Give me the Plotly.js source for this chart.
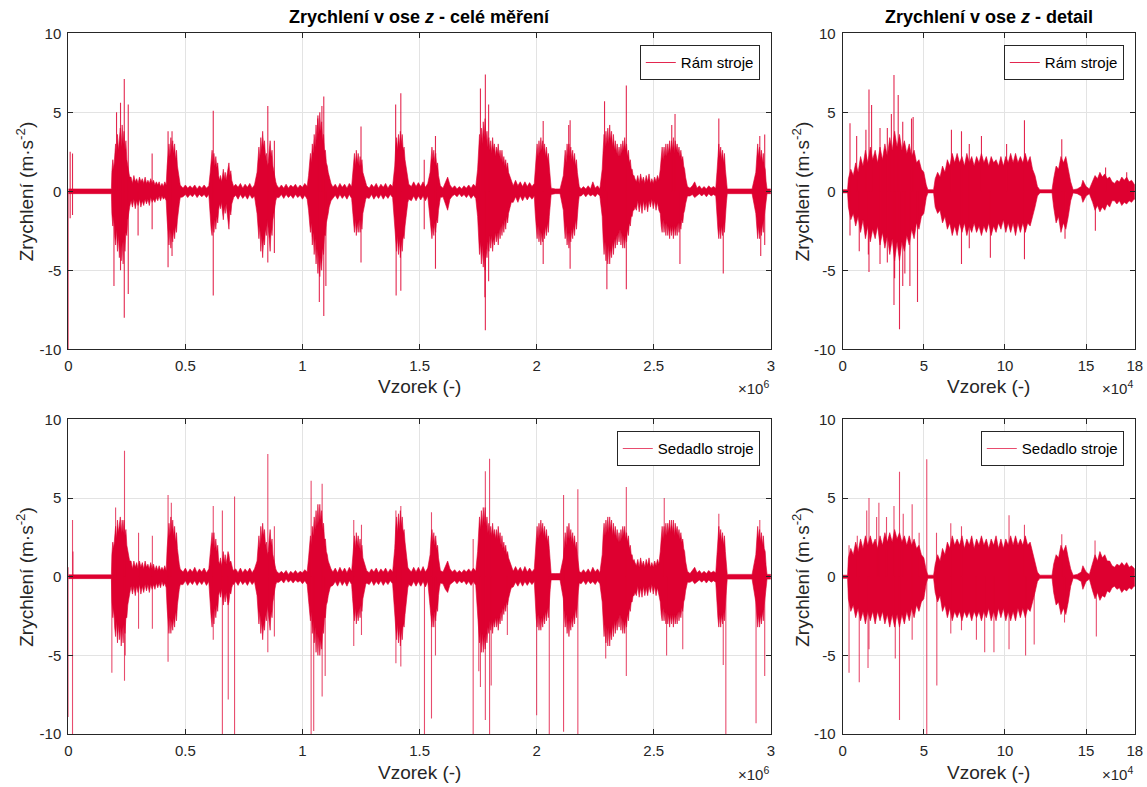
<!DOCTYPE html>
<html>
<head>
<meta charset="utf-8">
<script src="https://cdn.plot.ly/plotly-3.0.1.min.js"></script>
<style>html,body{margin:0;padding:0;background:#fff;}#chart{width:1147px;height:787px;}</style>
</head>
<body>
<div id="chart"></div>
<script>
// ================= DATA =================
// Left panels: x in units of 1e6 samples. Envelope (upper / lower extent of the dense signal).
const leftEnvX = [0.000,0.184,
0.186,0.190,0.194,0.198,0.202,0.206,0.210,0.214,0.218,0.222,0.226,0.230,0.234,0.238,0.242,0.246,0.250,0.254,0.258,0.262,
0.268,0.274,0.280,0.286,0.292,0.298,0.304,0.310,0.316,0.322,0.328,0.334,0.340,0.346,0.352,0.358,0.364,0.370,0.376,0.382,0.388,0.394,0.400,0.406,0.412,0.418,
0.422,0.426,0.430,0.434,0.438,0.442,0.446,0.450,0.454,0.458,0.462,0.466,0.470,0.474,0.478,
0.490,0.500,0.510,0.520,0.530,0.540,0.550,0.560,0.570,0.580,0.590,0.600,
0.606,0.610,0.614,0.618,0.622,0.626,0.630,0.634,0.638,0.642,0.646,0.650,0.654,0.658,0.662,0.666,0.670,0.674,0.678,0.682,0.686,0.690,0.694,0.698,0.702,0.706,
0.715,0.725,0.735,0.745,0.755,0.765,0.775,0.785,0.795,
0.806,0.810,0.814,0.818,0.822,0.826,0.830,0.834,0.838,0.842,0.846,0.850,0.854,0.858,0.862,0.866,0.870,0.874,0.878,0.882,0.886,0.890,
0.900,0.910,0.920,0.930,0.940,0.950,0.960,0.970,0.980,0.990,1.000,1.010,1.020,
1.026,1.030,1.034,1.038,1.042,1.046,1.050,1.054,1.058,1.062,1.066,1.070,1.074,1.078,1.082,1.086,1.090,1.094,1.098,1.102,1.106,1.110,1.114,1.118,1.122,
1.130,1.140,1.150,1.160,1.170,1.180,1.190,1.200,1.210,
1.214,1.218,1.222,1.226,1.230,1.234,1.238,1.242,1.246,1.250,1.254,1.258,1.262,1.266,1.270,1.274,
1.285,1.295,1.305,1.315,1.325,1.335,1.345,1.355,1.365,1.375,1.385,
1.394,1.398,1.402,1.406,1.410,1.414,1.418,1.422,1.426,1.430,1.434,1.438,1.442,1.446,1.450,1.454,
1.465,1.475,1.485,1.495,1.505,1.515,1.525,1.535,
1.545,1.549,1.553,1.557,1.561,1.565,1.569,1.573,1.577,1.581,1.585,1.589,
1.600,1.610,1.620,1.630,1.640,1.650,1.660,1.670,1.680,1.690,1.700,1.710,1.720,1.730,1.740,
1.748,1.752,1.756,1.760,1.764,1.768,1.772,1.776,1.780,1.784,1.788,1.792,1.796,1.800,1.804,1.808,1.812,1.816,1.820,1.824,1.828,1.832,1.836,1.840,1.844,1.848,1.852,1.856,1.860,1.864,1.868,1.872,1.876,1.880,1.884,1.888,1.892,
1.900,1.910,1.920,1.930,1.940,1.950,1.960,1.970,1.980,1.990,
1.994,1.998,2.002,2.006,2.010,2.014,2.018,2.022,2.026,2.030,2.034,2.038,2.042,2.046,2.050,2.054,2.058,2.062,
2.080,2.100,
2.114,2.118,2.122,2.126,2.130,2.134,2.138,2.142,2.146,2.150,2.154,2.158,2.162,2.166,2.170,2.174,2.178,2.182,
2.190,2.200,2.210,2.220,2.230,2.240,2.250,2.260,2.270,
2.280,2.284,2.288,2.292,2.296,2.300,2.304,2.308,2.312,2.316,2.320,2.324,2.328,2.332,2.336,2.340,2.344,2.348,2.352,2.356,2.360,2.364,2.368,2.372,2.376,2.380,2.384,2.388,2.392,2.396,2.400,2.404,2.408,2.412,2.416,2.420,
2.426,2.432,2.438,2.444,2.450,2.456,2.462,2.468,2.474,2.480,2.486,2.492,2.498,2.504,2.510,2.516,2.522,
2.528,2.532,2.536,2.540,2.544,2.548,2.552,2.556,2.560,2.564,2.568,2.572,2.576,2.580,2.584,2.588,2.592,2.596,2.600,2.604,2.608,2.612,2.616,2.620,2.624,2.628,2.632,2.636,2.640,2.644,
2.655,2.665,2.675,2.685,2.695,2.705,2.715,2.725,2.735,2.745,2.755,2.765,
2.770,2.774,2.778,2.782,2.786,2.790,2.794,2.798,2.802,2.806,2.810,2.814,
2.830,2.920,
2.936,2.940,2.944,2.948,2.952,2.956,2.960,2.964,2.968,2.972,2.976,2.980,2.984,
3.000];

// Rám stroje (frame) – whole measurement
const ramEnvHi = [0.15,0.15,
1.2,2.0,1.4,2.6,3.0,2.2,3.6,2.6,3.2,4.0,2.8,4.2,3.0,3.8,2.6,3.2,2.0,1.6,1.2,0.9,
0.9,0.5,1.0,0.6,0.8,0.5,0.9,0.6,0.8,0.5,0.9,0.5,0.7,0.5,0.8,0.5,0.7,0.4,0.6,0.4,0.6,0.3,0.5,0.3,0.6,0.4,
1.6,2.4,3.0,2.2,3.4,2.6,3.2,2.4,3.0,2.0,2.6,1.6,1.2,0.7,0.4,
0.2,0.4,0.2,0.35,0.2,0.4,0.15,0.35,0.2,0.4,0.2,0.35,
1.2,2.0,2.6,1.8,2.4,1.6,2.2,1.5,1.8,1.0,0.7,1.0,0.6,0.9,1.4,0.8,1.2,0.7,1.0,1.4,1.8,1.0,1.3,0.7,0.5,0.3,
0.45,0.25,0.5,0.2,0.45,0.25,0.5,0.2,0.4,
1.2,2.0,2.8,2.0,3.4,2.6,3.8,2.8,3.2,2.2,2.4,1.6,1.8,2.6,3.2,2.2,2.6,1.6,1.2,0.8,0.6,0.4,
0.2,0.4,0.2,0.45,0.2,0.4,0.25,0.45,0.2,0.4,0.25,0.5,0.3,
1.0,1.6,2.4,1.8,3.0,2.4,3.6,2.8,4.2,3.2,4.8,3.6,5.0,3.8,4.4,3.2,3.6,2.6,2.6,1.8,1.6,1.2,0.9,0.7,0.5,
0.25,0.45,0.2,0.5,0.25,0.45,0.2,0.5,0.3,
1.0,1.8,2.4,1.6,2.6,1.8,2.4,1.6,2.2,1.6,2.0,1.2,1.0,0.7,0.5,0.35,
0.2,0.45,0.25,0.5,0.2,0.45,0.25,0.5,0.2,0.45,0.3,
1.6,2.8,3.4,2.6,3.6,2.8,3.8,3.0,3.6,2.6,2.8,2.0,1.6,1.0,0.6,0.45,
0.3,0.6,0.3,0.55,0.3,0.6,0.25,0.5,
1.2,2.2,2.8,2.0,2.6,1.8,2.4,1.6,1.8,1.0,0.6,0.35,
0.2,0.5,0.9,0.4,0.2,0.35,0.15,0.3,0.15,0.35,0.2,0.4,0.2,0.45,0.3,
1.4,2.6,3.6,2.8,4.0,3.0,4.4,3.4,4.6,3.2,3.8,2.8,3.4,2.6,3.2,2.4,3.4,2.6,3.0,2.2,2.8,2.4,3.0,2.2,2.6,2.0,2.6,1.8,2.2,1.6,2.0,1.4,1.8,1.2,1.0,0.8,0.6,
0.35,0.7,0.35,0.6,0.3,0.6,0.3,0.55,0.3,0.5,
1.2,2.2,3.0,2.2,3.2,2.4,3.4,2.6,3.2,2.4,3.0,2.2,2.8,2.0,2.4,1.6,0.8,0.2,
0.15,0.15,
1.0,1.8,2.6,1.8,3.0,2.2,3.0,2.2,2.8,2.0,2.6,1.8,2.4,1.6,2.0,1.2,0.7,0.3,
0.15,0.3,0.15,0.35,0.15,0.6,0.2,0.35,0.15,
1.4,2.6,3.6,2.8,3.8,3.0,4.0,3.0,4.2,3.2,3.8,2.8,3.6,2.6,3.2,2.4,3.0,2.2,2.8,2.2,3.0,2.4,3.2,2.6,3.4,2.6,3.0,2.2,2.6,1.8,2.0,1.4,1.4,1.0,1.0,0.8,
0.6,1.0,0.5,1.1,0.6,0.9,0.5,1.0,0.6,1.1,0.5,0.8,0.5,0.9,0.6,1.0,0.7,
1.4,2.2,2.8,2.0,2.8,2.2,3.0,2.2,3.0,2.4,3.2,2.4,3.2,2.6,3.4,2.4,3.2,2.6,3.0,2.4,2.8,2.2,2.6,2.0,2.2,1.6,1.4,0.9,0.5,0.3,
0.2,0.35,0.6,0.2,0.35,0.15,0.3,0.15,0.35,0.2,0.3,0.2,
1.2,2.2,3.0,2.2,2.8,2.0,2.6,1.8,2.4,1.4,0.6,0.15,
0.15,0.15,
1.2,2.2,3.0,2.2,2.8,2.0,2.6,1.8,2.4,1.6,1.4,0.6,0.15,
0.15];
const ramEnvLo = [-0.15,-0.15,
-1.4,-2.2,-1.6,-2.8,-3.4,-2.4,-3.8,-2.8,-4.2,-3.0,-4.4,-3.2,-4.6,-3.0,-3.8,-2.6,-2.8,-1.8,-1.4,-1.0,
-0.6,-1.0,-0.5,-1.1,-0.6,-0.9,-0.5,-1.0,-0.6,-0.9,-0.5,-0.8,-0.5,-0.9,-0.4,-0.7,-0.5,-0.7,-0.4,-0.6,-0.3,-0.6,-0.3,-0.5,-0.4,-0.6,
-1.8,-2.8,-3.4,-2.4,-3.6,-2.6,-3.2,-2.4,-3.0,-2.2,-2.6,-1.8,-1.2,-0.8,-0.4,
-0.35,-0.2,-0.4,-0.2,-0.35,-0.15,-0.4,-0.2,-0.35,-0.2,-0.4,-0.2,
-1.4,-2.4,-2.8,-2.0,-2.6,-1.8,-2.4,-1.6,-2.0,-1.2,-0.8,-1.1,-0.7,-1.0,-1.8,-1.0,-1.4,-0.8,-1.2,-1.8,-2.4,-1.2,-1.5,-0.8,-0.6,-0.4,
-0.25,-0.5,-0.2,-0.45,-0.25,-0.5,-0.2,-0.45,-0.3,
-1.4,-2.2,-3.0,-2.2,-3.8,-2.8,-4.2,-3.0,-3.4,-2.4,-2.8,-1.8,-2.2,-3.0,-3.8,-2.4,-2.8,-1.8,-1.4,-0.9,-0.6,-0.4,
-0.4,-0.2,-0.45,-0.2,-0.4,-0.25,-0.45,-0.2,-0.4,-0.25,-0.5,-0.25,-0.5,
-1.2,-1.8,-2.6,-2.0,-3.4,-2.6,-4.0,-3.0,-4.6,-3.6,-5.2,-4.0,-5.4,-4.2,-5.0,-3.6,-4.0,-2.8,-2.8,-2.0,-1.8,-1.4,-1.0,-0.8,-0.6,
-0.45,-0.25,-0.5,-0.2,-0.45,-0.25,-0.5,-0.2,-0.45,
-1.2,-2.0,-2.6,-1.8,-2.8,-2.0,-2.6,-1.8,-2.6,-1.8,-2.4,-1.4,-1.2,-0.8,-0.5,-0.4,
-0.45,-0.2,-0.5,-0.25,-0.45,-0.2,-0.5,-0.25,-0.45,-0.2,-0.4,
-1.8,-3.0,-3.8,-2.8,-4.0,-3.0,-4.2,-3.2,-3.8,-2.8,-3.0,-2.2,-1.8,-1.1,-0.7,-0.5,
-0.6,-0.3,-0.6,-0.3,-0.55,-0.3,-0.6,-0.3,
-1.4,-2.4,-3.0,-2.2,-2.8,-2.0,-2.6,-1.8,-2.0,-1.2,-0.7,-0.4,
-0.35,-0.8,-1.2,-0.5,-0.3,-0.2,-0.35,-0.15,-0.35,-0.2,-0.4,-0.2,-0.45,-0.25,-0.45,
-1.6,-3.0,-4.0,-3.2,-4.6,-3.4,-4.8,-3.8,-5.0,-3.6,-4.2,-3.2,-3.8,-2.8,-3.6,-2.8,-3.8,-3.0,-3.4,-2.6,-3.2,-2.6,-3.4,-2.4,-3.0,-2.2,-2.8,-2.0,-2.6,-1.8,-2.4,-1.6,-2.0,-1.4,-1.2,-0.9,-0.7,
-0.7,-0.35,-0.7,-0.3,-0.6,-0.3,-0.55,-0.3,-0.5,-0.3,
-1.4,-2.4,-3.0,-2.2,-3.2,-2.4,-3.4,-2.6,-3.2,-2.4,-3.0,-2.2,-2.8,-2.0,-2.6,-1.6,-0.8,-0.2,
-0.15,-0.15,
-1.2,-2.2,-3.0,-2.2,-3.4,-2.6,-3.6,-2.6,-3.2,-2.4,-3.0,-2.2,-2.8,-1.8,-2.4,-1.4,-0.8,-0.3,
-0.3,-0.15,-0.35,-0.15,-0.3,-0.2,-0.35,-0.15,-0.3,
-1.6,-3.0,-4.0,-3.2,-4.4,-3.4,-4.6,-3.4,-4.6,-3.6,-4.2,-3.2,-4.0,-3.0,-3.6,-2.8,-3.4,-2.6,-3.2,-2.4,-3.4,-2.6,-3.6,-2.8,-3.6,-2.8,-3.2,-2.4,-2.8,-2.0,-2.2,-1.6,-1.6,-1.2,-1.2,-1.0,
-1.2,-0.6,-1.3,-0.7,-1.4,-0.6,-1.2,-0.7,-1.3,-0.6,-1.0,-0.5,-1.1,-0.6,-1.2,-0.7,-1.2,
-1.4,-2.2,-2.6,-1.8,-2.6,-2.0,-2.8,-2.0,-2.8,-2.2,-3.0,-2.2,-2.8,-2.2,-3.0,-2.2,-2.8,-2.2,-2.8,-2.0,-2.6,-2.0,-2.4,-1.8,-2.0,-1.4,-1.2,-0.8,-0.5,-0.3,
-0.3,-0.2,-0.4,-0.3,-0.15,-0.3,-0.15,-0.35,-0.15,-0.3,-0.2,-0.3,
-1.4,-2.4,-3.0,-2.2,-3.0,-2.2,-2.8,-2.0,-2.6,-1.6,-0.8,-0.15,
-0.15,-0.15,
-1.4,-2.4,-3.0,-2.2,-3.0,-2.2,-2.8,-2.0,-2.6,-1.6,-1.4,-0.6,-0.15,
-0.15];
// isolated spikes: position and peak value
const ramSpikeX = [0.000,0.008,0.008,0.018,0.018,0.195,0.206,0.223,0.223,0.239,0.239,0.256,0.256,0.298,0.358,0.358,0.426,0.426,0.443,0.443,0.619,0.619,0.852,0.852,0.880,0.880,1.065,1.072,1.083,1.091,1.091,1.100,1.250,1.250,1.398,1.400,1.420,1.420,1.520,1.520,1.568,1.568,1.760,1.781,1.781,1.779,1.795,1.795,2.028,2.028,2.137,2.143,2.143,2.290,2.300,2.383,2.383,2.577,2.591,2.612,2.778,2.797,2.953,2.957,2.974,2.974];
const ramSpikeY = [-10,2.5,-1.7,2.4,-1.5,-6.0,5.0,5.6,-5.0,7.1,-8.0,5.5,-6.5,-2.8,2.4,-2.4,3.8,-4.8,3.8,-4.1,5.1,-6.6,5.4,-4.5,3.2,-3.9,4.6,-7.0,5.4,6.0,-7.9,-6.0,4.1,-4.5,5.5,-6.6,6.2,-6.3,2.0,-2.4,3.5,-4.9,6.5,7.4,-8.8,-6.7,5.5,-5.7,4.45,-4.6,4.2,4.5,-4.9,5.7,-6.2,6.7,-6.2,4.2,4.9,-4.6,4.6,-5.2,3.5,-4.1,3.6,-3.4];

// Sedadlo stroje (seat) – whole measurement
const sedEnvHi = [0.12,0.12,
1.4,2.2,1.8,2.8,3.2,2.4,3.6,2.8,3.4,3.8,2.8,3.6,2.8,3.6,2.6,3.0,2.0,1.6,1.2,1.0,
1.0,0.5,1.0,0.6,0.9,0.5,1.0,0.6,0.9,0.5,1.0,0.6,0.8,0.5,0.9,0.5,0.8,0.4,0.7,0.4,0.7,0.4,0.6,0.4,0.7,0.4,
1.8,2.8,3.4,2.6,3.8,2.8,3.6,2.6,3.2,2.2,2.8,1.8,1.2,0.8,0.5,
0.3,0.55,0.25,0.5,0.3,0.6,0.25,0.5,0.3,0.55,0.25,0.5,
1.4,2.2,2.8,2.0,2.8,1.8,2.4,1.6,2.0,1.0,0.8,1.2,0.7,1.0,1.6,0.9,1.4,0.8,1.2,1.6,1.4,0.9,1.0,0.6,0.5,0.4,
0.5,0.25,0.55,0.25,0.5,0.3,0.55,0.25,0.5,
1.0,1.8,2.6,1.8,3.2,2.4,3.4,2.6,3.0,2.0,2.2,1.4,1.6,2.4,3.0,2.0,2.4,1.4,1.0,0.7,0.5,0.35,
0.2,0.35,0.2,0.4,0.15,0.35,0.2,0.4,0.2,0.35,0.25,0.45,0.3,
1.2,1.8,2.6,2.0,3.2,2.6,3.8,3.0,4.2,3.2,4.6,3.4,4.6,3.6,4.2,3.0,3.4,2.4,2.4,1.6,1.4,1.0,0.8,0.6,0.5,
0.3,0.55,0.25,0.6,0.3,0.55,0.25,0.6,0.35,
1.2,2.0,2.6,1.8,2.8,2.0,2.6,1.8,2.4,1.6,2.0,1.2,1.0,0.7,0.5,0.4,
0.25,0.5,0.3,0.55,0.25,0.5,0.3,0.55,0.25,0.5,0.3,
1.8,3.0,3.8,2.8,4.0,3.0,4.2,3.2,3.8,2.8,3.0,2.2,1.6,1.0,0.6,0.5,
0.3,0.6,0.3,0.6,0.3,0.65,0.3,0.55,
1.4,2.4,3.0,2.2,2.8,2.0,2.6,1.8,2.0,1.2,0.7,0.4,
0.3,0.6,1.0,0.5,0.3,0.45,0.25,0.4,0.25,0.45,0.3,0.5,0.3,0.55,0.35,
1.6,2.8,3.8,3.0,4.2,3.2,4.4,3.4,4.4,3.2,3.8,2.8,3.4,2.6,3.2,2.6,3.4,2.6,3.0,2.4,3.0,2.4,3.2,2.4,2.8,2.0,2.6,1.8,2.2,1.6,2.0,1.4,1.6,1.2,1.0,0.8,0.6,
0.35,0.65,0.35,0.6,0.3,0.65,0.3,0.55,0.3,0.5,
1.4,2.4,3.2,2.4,3.4,2.6,3.6,2.8,3.4,2.6,3.2,2.4,3.0,2.2,2.6,1.8,0.9,0.2,
0.2,0.2,
1.2,2.0,2.8,2.0,3.2,2.4,3.4,2.4,3.0,2.2,2.8,2.0,2.6,1.8,2.2,1.4,0.8,0.35,
0.25,0.45,0.25,0.5,0.25,0.6,0.3,0.5,0.25,
1.4,2.6,3.4,2.6,3.6,2.8,3.8,2.8,3.8,3.0,3.6,2.6,3.4,2.6,3.2,2.4,3.0,2.2,2.8,2.2,3.0,2.4,3.2,2.6,3.2,2.4,2.8,2.2,2.6,1.8,2.0,1.4,1.4,1.0,1.1,0.9,
0.7,1.1,0.6,1.2,0.7,1.0,0.6,1.1,0.7,1.2,0.6,0.9,0.6,1.0,0.7,1.1,0.8,
1.6,2.6,3.2,2.4,3.2,2.6,3.4,2.6,3.4,2.8,3.6,2.8,3.6,2.8,3.6,2.6,3.4,2.8,3.2,2.6,3.0,2.4,2.8,2.2,2.4,1.8,1.6,1.0,0.6,0.35,
0.2,0.4,0.6,0.25,0.4,0.2,0.35,0.2,0.4,0.25,0.35,0.25,
1.4,2.4,3.2,2.4,3.0,2.2,2.8,2.0,2.6,1.6,0.7,0.15,
0.15,0.15,
1.4,2.4,3.2,2.4,3.0,2.2,2.8,2.0,2.6,1.8,1.6,0.7,0.15,
0.15];
const sedEnvLo = [-0.12,-0.12,
-1.6,-2.6,-2.0,-3.2,-3.8,-2.8,-4.2,-3.0,-4.0,-3.2,-4.4,-3.2,-4.2,-3.0,-3.6,-2.6,-2.6,-1.8,-1.4,-1.1,
-0.6,-1.1,-0.6,-1.2,-0.6,-1.0,-0.5,-1.1,-0.6,-1.0,-0.5,-0.9,-0.5,-1.0,-0.5,-0.8,-0.5,-0.8,-0.4,-0.7,-0.4,-0.7,-0.3,-0.6,-0.4,-0.7,
-2.0,-3.0,-3.6,-2.6,-3.6,-2.8,-3.4,-2.6,-3.2,-2.2,-2.8,-1.8,-1.2,-0.8,-0.5,
-0.5,-0.25,-0.55,-0.3,-0.5,-0.25,-0.55,-0.3,-0.5,-0.25,-0.55,-0.3,
-1.6,-2.6,-3.2,-2.2,-3.0,-2.0,-2.6,-1.8,-2.2,-1.2,-0.9,-1.3,-0.8,-1.2,-1.8,-1.1,-1.6,-1.0,-1.4,-1.8,-1.6,-1.0,-1.1,-0.7,-0.5,-0.5,
-0.3,-0.55,-0.25,-0.5,-0.3,-0.55,-0.25,-0.5,-0.3,
-1.2,-2.2,-3.0,-2.2,-3.6,-2.8,-4.0,-3.0,-3.4,-2.4,-2.8,-1.8,-2.0,-2.8,-3.4,-2.2,-2.6,-1.6,-1.2,-0.8,-0.5,-0.35,
-0.35,-0.2,-0.4,-0.15,-0.35,-0.2,-0.4,-0.2,-0.35,-0.25,-0.45,-0.25,-0.5,
-1.4,-2.0,-2.8,-2.2,-3.6,-2.8,-4.2,-3.2,-4.8,-3.6,-5.0,-3.8,-5.0,-4.0,-4.6,-3.4,-3.6,-2.6,-2.6,-1.8,-1.6,-1.2,-0.9,-0.7,-0.6,
-0.55,-0.3,-0.6,-0.25,-0.55,-0.3,-0.6,-0.25,-0.5,
-1.4,-2.2,-2.8,-2.0,-3.0,-2.2,-2.8,-2.0,-2.6,-1.8,-2.2,-1.4,-1.1,-0.8,-0.5,-0.4,
-0.5,-0.25,-0.55,-0.3,-0.5,-0.25,-0.55,-0.3,-0.5,-0.25,-0.45,
-2.0,-3.2,-4.0,-3.0,-4.2,-3.2,-4.4,-3.4,-4.0,-3.0,-3.2,-2.4,-1.8,-1.2,-0.7,-0.5,
-0.6,-0.3,-0.6,-0.3,-0.6,-0.3,-0.65,-0.3,
-1.6,-2.6,-3.2,-2.4,-3.2,-2.2,-2.8,-2.0,-2.2,-1.2,-0.7,-0.4,
-0.45,-0.8,-1.0,-0.5,-0.4,-0.25,-0.45,-0.25,-0.4,-0.25,-0.5,-0.3,-0.55,-0.3,-0.55,
-1.8,-3.2,-4.2,-3.4,-4.8,-3.6,-4.8,-3.8,-4.6,-3.6,-4.2,-3.2,-3.6,-2.8,-3.4,-2.8,-3.6,-2.8,-3.2,-2.6,-3.2,-2.6,-3.4,-2.6,-3.0,-2.2,-2.8,-2.0,-2.4,-1.8,-2.2,-1.6,-1.8,-1.4,-1.1,-0.9,-0.7,
-0.65,-0.35,-0.6,-0.3,-0.6,-0.3,-0.55,-0.3,-0.5,-0.3,
-1.6,-2.6,-3.2,-2.4,-3.4,-2.6,-3.4,-2.6,-3.2,-2.4,-3.0,-2.2,-2.8,-2.0,-2.6,-1.6,-0.8,-0.2,
-0.2,-0.2,
-1.4,-2.4,-3.2,-2.4,-3.6,-2.8,-3.8,-2.8,-3.4,-2.6,-3.2,-2.4,-3.0,-2.0,-2.6,-1.6,-0.9,-0.4,
-0.45,-0.25,-0.5,-0.25,-0.45,-0.3,-0.5,-0.25,-0.45,
-1.6,-3.0,-3.8,-3.0,-4.2,-3.2,-4.4,-3.2,-4.4,-3.4,-4.0,-3.0,-3.8,-2.8,-3.6,-2.8,-3.4,-2.6,-3.2,-2.4,-3.4,-2.6,-3.6,-2.8,-3.6,-2.8,-3.2,-2.4,-2.8,-2.0,-2.2,-1.6,-1.6,-1.2,-1.2,-1.0,
-1.2,-0.6,-1.3,-0.7,-1.3,-0.6,-1.2,-0.7,-1.2,-0.6,-1.0,-0.5,-1.1,-0.6,-1.2,-0.7,-1.2,
-1.6,-2.4,-2.8,-2.0,-2.8,-2.2,-3.0,-2.2,-3.0,-2.4,-3.2,-2.4,-3.0,-2.4,-3.2,-2.4,-3.0,-2.4,-3.0,-2.2,-2.8,-2.2,-2.6,-2.0,-2.2,-1.6,-1.4,-0.9,-0.6,-0.35,
-0.35,-0.25,-0.45,-0.35,-0.2,-0.35,-0.2,-0.4,-0.2,-0.35,-0.25,-0.35,
-1.6,-2.6,-3.2,-2.4,-3.2,-2.4,-3.0,-2.2,-2.8,-1.8,-0.9,-0.15,
-0.15,-0.15,
-1.6,-2.6,-3.2,-2.4,-3.2,-2.4,-3.0,-2.2,-2.8,-1.8,-1.6,-0.7,-0.15,
-0.15];
const sedSpikeX = [0.000,0.000,0.018,0.018,0.020,0.186,0.202,0.240,0.240,0.243,0.300,0.300,0.359,0.359,0.426,0.426,0.440,0.619,0.619,0.658,0.658,0.683,0.710,0.710,0.852,0.852,0.880,0.880,1.037,1.037,1.048,1.084,1.084,1.097,1.219,1.219,1.252,1.252,1.399,1.399,1.420,1.420,1.521,1.551,1.551,1.568,1.729,1.729,1.753,1.760,1.781,1.781,1.799,1.799,1.806,1.875,2.000,2.054,2.115,2.115,2.176,2.176,2.295,2.383,2.383,2.545,2.555,2.624,2.778,2.797,2.808,2.937,2.953,2.974];
const sedSpikeY = [-8.9,0.6,3.6,-10,1.6,-6.1,4.4,8.0,-6.6,-5.0,2.8,-3.3,2.6,-3.3,5.2,-5.4,4.7,4.5,-4.0,4.2,-10,-7.8,5.1,-10,7.8,-4.8,3.2,-3.8,6.1,-10,-9.8,5.9,-7.6,-6.3,3.6,-4.4,3.3,-3.7,4.2,-5.5,4.5,-5.7,-10,4.1,-9.0,-5.0,2.4,-10,-6.0,-7.0,6.7,-9.1,7.5,-10,-6.9,-3.7,-8.8,-10,5.2,-9.85,5.55,-10,-5.2,5.7,-6.3,5.0,-5.0,-4.6,4.0,-5.6,-10,-9.3,3.6,-6.3];

// Right panels: x in units of 1e4 samples
const rightEnvX = [0,0.30,
0.35,0.50,0.65,0.80,0.95,1.10,1.25,1.40,1.55,1.70,1.85,2.00,2.15,2.30,2.45,2.60,2.75,2.90,3.05,3.20,3.35,3.50,3.65,3.80,3.95,4.10,4.25,4.40,4.55,4.70,4.85,5.00,5.15,
5.25,5.60,
5.70,5.85,6.00,6.15,6.30,6.45,6.60,6.75,6.90,7.05,7.20,7.35,7.50,7.65,7.80,7.95,8.10,8.25,8.40,8.55,8.70,8.85,9.00,9.15,9.30,9.45,9.60,9.75,9.90,10.05,10.20,10.35,10.50,10.65,10.80,10.95,11.10,11.25,11.40,11.55,11.70,11.85,12.00,
12.15,12.90,
13.00,13.15,13.30,13.45,13.60,13.75,13.90,14.05,
14.20,14.45,14.70,14.80,14.90,15.00,15.20,
15.40,15.55,15.70,15.85,16.00,16.15,16.30,16.45,16.60,16.75,16.90,17.05,17.20,17.35,17.50,17.65,17.80,17.95,
18.00];
// Rám stroje – detail
const ramDetHi = [0.1,0.1,
0.8,1.4,1.0,1.8,1.2,2.2,1.6,2.6,1.8,2.8,2.0,2.6,1.8,2.8,2.0,3.0,2.2,3.4,2.6,3.8,2.8,3.6,2.6,3.2,2.4,3.0,2.2,2.6,1.8,2.0,1.4,1.2,0.4,
0.1,0.1,
0.8,1.2,0.9,1.6,1.2,2.0,1.6,2.4,1.8,2.4,1.8,2.2,1.6,2.4,1.8,2.2,1.6,2.2,1.8,2.4,1.8,2.2,1.6,2.2,1.8,2.0,1.6,2.2,1.6,2.2,1.8,2.4,1.8,2.4,1.8,2.2,1.8,2.4,1.8,2.2,1.4,1.0,0.3,
0.1,0.1,
0.8,1.6,1.4,2.2,1.8,2.2,1.4,0.6,
0.1,0.15,0.3,0.7,0.5,0.3,0.15,
0.6,1.0,0.8,1.2,0.9,1.1,0.8,0.9,0.6,0.5,0.7,0.6,0.9,0.7,0.9,0.6,0.7,0.5,
0.4];
const ramDetLo = [-0.1,-0.1,
-1.0,-1.8,-1.4,-2.2,-1.6,-2.6,-1.8,-3.0,-2.2,-3.2,-2.4,-3.0,-2.2,-3.4,-2.6,-3.6,-2.8,-4.0,-3.0,-4.4,-3.2,-4.4,-3.2,-3.8,-2.8,-3.4,-2.4,-3.0,-2.0,-2.4,-1.6,-1.4,-0.4,
-0.1,-0.1,
-1.0,-1.4,-1.2,-2.0,-1.6,-2.4,-2.0,-2.8,-2.2,-2.8,-2.0,-2.6,-2.0,-2.8,-2.2,-2.6,-2.0,-2.6,-2.2,-2.8,-2.2,-2.6,-2.0,-2.8,-2.2,-2.6,-2.0,-2.4,-1.8,-2.6,-2.0,-2.6,-2.0,-2.8,-2.0,-2.6,-2.0,-2.6,-2.0,-2.2,-1.6,-1.0,-0.3,
-0.1,-0.1,
-1.0,-2.0,-1.6,-2.6,-2.0,-2.4,-1.6,-0.6,
-0.1,-0.15,-0.3,-0.7,-0.5,-0.3,-0.15,
-0.7,-1.2,-0.9,-1.3,-1.0,-1.2,-0.8,-1.0,-0.6,-0.6,-0.8,-0.6,-0.9,-0.7,-0.8,-0.6,-0.7,-0.5,
-0.5];
const ramDetSpikeX = [0.45,0.45,0.86,1.02,1.43,1.58,1.62,1.62,1.78,2.30,2.30,2.75,2.75,3.00,3.16,3.16,3.20,3.42,3.50,3.70,3.70,3.83,4.14,4.24,4.34,4.61,6.70,7.32,7.32,7.80,7.80,8.55,9.10,10.10,11.20,11.20,13.50,13.70,15.57,16.20,17.50];
const ramDetSpikeY = [4.3,-2.8,3.5,-3.8,3.9,-4.0,6.45,-5.1,5.46,4.0,-4.6,4.0,-4.5,4.9,7.36,-7.2,-5.5,6.1,-8.73,4.4,-6.0,-5.2,-6.0,4.6,4.7,-7.0,3.9,3.8,-4.6,3.0,-3.6,3.5,-4.2,3.0,4.5,-4.3,3.3,-3.0,-2.5,1.5,1.2];
// Sedadlo stroje – detail
const sedDetHi = [0.1,0.1,
1.2,1.8,1.4,2.2,1.6,2.4,1.8,2.6,2.0,2.6,2.0,2.4,1.8,2.6,2.0,2.8,2.2,2.8,2.2,3.0,2.4,2.8,2.2,2.6,2.0,2.6,2.0,2.4,1.8,2.0,1.4,1.2,0.4,
0.1,0.1,
0.8,1.4,1.0,1.8,1.4,2.2,1.8,2.6,2.0,2.4,2.0,2.6,1.8,2.4,2.0,2.6,1.8,2.4,2.0,2.6,2.0,2.4,1.8,2.4,2.0,2.6,1.8,2.4,1.8,2.4,2.0,2.6,2.0,2.6,2.0,2.4,2.0,2.6,2.0,2.2,1.6,1.0,0.3,
0.1,0.1,
0.8,1.4,1.2,2.0,1.6,2.0,1.2,0.5,
0.1,0.15,0.3,0.7,0.5,0.3,0.15,
0.8,1.4,1.0,1.6,1.2,1.4,1.0,1.0,0.7,0.6,0.8,0.7,0.9,0.7,0.9,0.6,0.7,0.5,
0.5];
const sedDetLo = [-0.1,-0.1,
-1.4,-2.2,-1.8,-2.6,-2.0,-2.8,-2.2,-3.0,-2.2,-2.8,-2.2,-3.0,-2.2,-2.8,-2.2,-3.0,-2.4,-3.2,-2.4,-3.2,-2.4,-3.2,-2.4,-3.0,-2.2,-2.8,-2.0,-2.6,-1.8,-2.2,-1.6,-1.4,-0.4,
-0.1,-0.1,
-1.0,-1.6,-1.2,-2.2,-1.8,-2.6,-2.0,-2.8,-2.2,-2.6,-2.2,-2.8,-2.2,-2.6,-2.2,-2.8,-2.2,-2.6,-2.2,-2.8,-2.2,-2.6,-2.0,-2.8,-2.2,-2.8,-2.0,-2.6,-2.0,-2.8,-2.2,-2.8,-2.2,-2.8,-2.0,-2.6,-2.0,-2.6,-2.0,-2.2,-1.6,-1.0,-0.3,
-0.1,-0.1,
-1.0,-1.8,-1.6,-2.4,-2.0,-2.4,-1.6,-0.6,
-0.1,-0.15,-0.3,-0.8,-0.5,-0.3,-0.15,
-0.9,-1.4,-1.0,-1.5,-1.2,-1.3,-0.9,-1.0,-0.7,-0.6,-0.8,-0.7,-1.0,-0.8,-0.9,-0.7,-0.8,-0.6,
-0.6];
const sedDetSpikeX = [0.39,0.39,0.90,1.02,1.48,1.56,1.62,1.62,2.09,2.23,2.70,3.16,3.24,3.50,3.50,3.73,4.28,4.28,4.71,5.18,5.18,5.78,5.80,6.66,6.66,7.32,7.32,8.24,8.75,9.32,10.25,10.25,11.20,11.27,11.80,13.50,13.67,15.55,15.63];
const sedDetSpikeY = [2.0,-6.1,2.6,-6.7,4.2,-5.8,5.0,-4.6,3.8,4.7,3.8,4.5,-5.2,6.67,-9.1,4.0,4.6,-4.0,2.8,7.46,-10,2.8,-6.9,3.4,-3.6,3.2,-3.4,-4.0,-4.8,-4.8,3.9,-4.6,3.3,-5.0,-4.3,2.7,-2.9,2.3,-3.8];

// ticks and texts
const leftTicks  = [0,0.5,1,1.5,2,2.5,3];
const leftTickText = ['0','0.5','1','1.5','2','2.5','3'];
const rightTicks = [0,5,10,15,18];
const rightTickText = ['0','5','10','15','18'];
const yTicks = [-10,-5,0,5,10];
const yTickText = ['-10','-5','0','5','10'];
const seriesNames = ['Rám stroje','Sedadlo stroje'];
const titles = ['Zrychlení v ose <i>z</i> - celé měření','Zrychlení v ose <i>z</i> - detail'];
const xTitle = 'Vzorek (-)';
const yTitle = 'Zrychlení (m·s<sup>-2</sup>)';
const multipliers = ['×10<sup>6</sup>','×10<sup>4</sup>'];

// ================= BUILD =================
const RED = 'rgb(222,0,48)';
function envTrace(x, hi, lo, xa, ya) {
  const n = Math.min(x.length, hi.length, lo.length);
  const xs = x.slice(0, n), h = hi.slice(0, n), l = lo.slice(0, n);
  return {x: xs.concat(xs.slice().reverse()), y: h.concat(l.slice().reverse()), xaxis: xa, yaxis: ya,
          type: 'scatter', mode: 'lines', fill: 'toself', fillcolor: RED,
          line: {color: RED, width: 0.6}, showlegend: false, hoverinfo: 'skip'};
}
function spikeTrace(sx, sy, xa, ya, name, legend, color) {
  const px = [], py = [];
  for (let i = 0; i < Math.min(sx.length, sy.length); i++) { px.push(sx[i], sx[i], null); py.push(0, sy[i], null); }
  return {x: px, y: py, xaxis: xa, yaxis: ya, type: 'scatter', mode: 'lines', name: name,
          legend: legend, line: {color: color, width: 1.1}, showlegend: true, hoverinfo: 'skip'};
}

const W = 1147, H = 787;
const fx = p => p / W, fy = p => 1 - p / H;
const L = [68.3, 770.8], R = [842.7, 1134.8];
const T = [33.3, 349.3], B = [419.3, 734.2];

const traces = [
  envTrace(leftEnvX, ramEnvHi, ramEnvLo, 'x', 'y'),
  spikeTrace(ramSpikeX, ramSpikeY, 'x', 'y', seriesNames[0], 'legend', 'rgba(222,0,48,0.85)'),
  envTrace(rightEnvX, ramDetHi, ramDetLo, 'x2', 'y2'),
  spikeTrace(ramDetSpikeX, ramDetSpikeY, 'x2', 'y2', seriesNames[0], 'legend2', 'rgba(222,0,48,0.85)'),
  envTrace(leftEnvX, sedEnvHi, sedEnvLo, 'x3', 'y3'),
  spikeTrace(sedSpikeX, sedSpikeY, 'x3', 'y3', seriesNames[1], 'legend3', 'rgba(222,0,48,0.7)'),
  envTrace(rightEnvX, sedDetHi, sedDetLo, 'x4', 'y4'),
  spikeTrace(sedDetSpikeX, sedDetSpikeY, 'x4', 'y4', seriesNames[1], 'legend4', 'rgba(222,0,48,0.7)')
];

const FONT = 'Arial, "Liberation Sans", Helvetica, sans-serif';
const AX = '#262626';
function axisBase() {
  return {showline: true, mirror: 'ticks', linecolor: AX, linewidth: 1, ticks: 'inside', ticklen: 5,
          tickcolor: AX, showgrid: true, gridcolor: '#e3e3e3', gridwidth: 1, zeroline: false,
          tickfont: {family: FONT, size: 15, color: AX}, fixedrange: true};
}
function xaxis(dom, anchor, ticks, text, range) {
  return Object.assign(axisBase(), {domain: dom, anchor: anchor, range: range, tickvals: ticks, ticktext: text, ticklabelstandoff: 3});
}
function yaxis(dom, anchor) {
  return Object.assign(axisBase(), {domain: dom, anchor: anchor, range: [-10, 10], tickvals: yTicks, ticktext: yTickText, ticklabelstandoff: 3});
}
function legendAt(xr, yt) {
  return {x: fx(xr - 11), xanchor: 'right', y: fy(yt + 12), yanchor: 'top', bgcolor: '#fff',
          bordercolor: AX, borderwidth: 1, font: {family: FONT, size: 15, color: '#000'},
          itemwidth: 30, tracegroupgap: 0};
}

const anns = [];
function ann(text, x, y, opts) {
  anns.push(Object.assign({text: text, x: fx(x), y: fy(y), xref: 'paper', yref: 'paper',
    xanchor: 'center', yanchor: 'middle', showarrow: false,
    font: {family: FONT, size: 19, color: AX}}, opts || {}));
}
ann('<b>' + titles[0] + '</b>', (L[0] + L[1]) / 2, 17, {font: {family: FONT, size: 18, color: '#000'}});
ann('<b>' + titles[1] + '</b>', (R[0] + R[1]) / 2, 17, {font: {family: FONT, size: 18, color: '#000'}});
[[L, 386], [R, 386], [L, 772], [R, 772]].forEach(function (d) { ann(xTitle, (d[0][0] + d[0][1]) / 2, d[1]); });
[[25, T], [801, T], [25, B], [801, B]].forEach(function (d) { ann(yTitle, d[0], (d[1][0] + d[1][1]) / 2, {textangle: -90}); });
[[L[1], 387], [R[1], 387], [L[1], 773], [R[1], 773]].forEach(function (d, i) {
  ann(multipliers[i % 2], d[0], d[1], {xanchor: 'right', font: {family: FONT, size: 15, color: AX}});
});

const layout = {
  width: W, height: H, margin: {l: 0, r: 0, t: 0, b: 0}, paper_bgcolor: '#fff', plot_bgcolor: '#fff',
  showlegend: true,
  xaxis:  xaxis([fx(L[0]), fx(L[1])], 'y',  leftTicks,  leftTickText,  [0, 3]),
  yaxis:  yaxis([fy(T[1]), fy(T[0])], 'x'),
  xaxis2: xaxis([fx(R[0]), fx(R[1])], 'y2', rightTicks, rightTickText, [0, 18]),
  yaxis2: yaxis([fy(T[1]), fy(T[0])], 'x2'),
  xaxis3: xaxis([fx(L[0]), fx(L[1])], 'y3', leftTicks,  leftTickText,  [0, 3]),
  yaxis3: yaxis([fy(B[1]), fy(B[0])], 'x3'),
  xaxis4: xaxis([fx(R[0]), fx(R[1])], 'y4', rightTicks, rightTickText, [0, 18]),
  yaxis4: yaxis([fy(B[1]), fy(B[0])], 'x4'),
  legend:  legendAt(L[1], T[0]),
  legend2: legendAt(R[1], T[0]),
  legend3: legendAt(L[1], B[0]),
  legend4: legendAt(R[1], B[0]),
  annotations: anns
};

Plotly.newPlot('chart', traces, layout, {staticPlot: true, displayModeBar: false});
</script>
</body>
</html>
